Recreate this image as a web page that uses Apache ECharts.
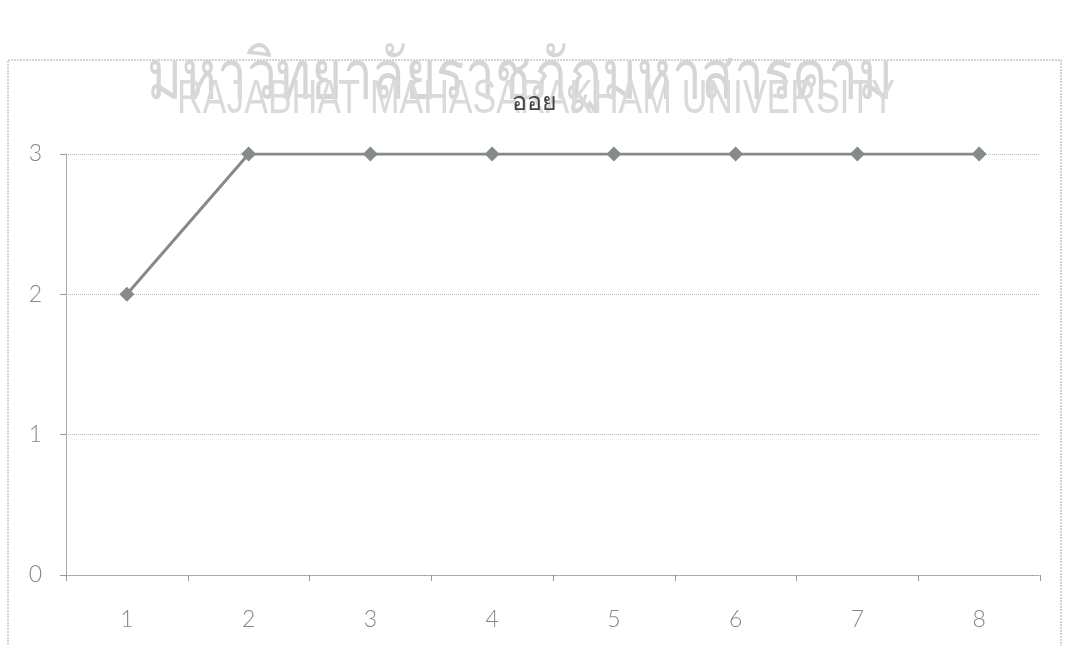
<!DOCTYPE html>
<html>
<head>
<meta charset="utf-8">
<script src="https://cdn.jsdelivr.net/npm/echarts@6/dist/echarts.min.js"></script>
<style>html,body{margin:0;padding:0;background:#fff}#c{width:1069px;height:646px}</style>
</head>
<body>
<div id="c"></div>
<script>
var categories = ['1','2','3','4','5','6','7','8'];
var values = [2,3,3,3,3,3,3,3];
var yTicks = [0,1,2,3];
var titleText = 'ออย';
var watermarkTh = 'มหาวิทยาลัยราชภัฏมหาสารคาม';
var watermarkEn = 'RAJABHAT MAHASARAKHAM UNIVERSITY';

var chart = echarts.init(document.getElementById('c'));
chart.setOption({
  animation: false,
  backgroundColor: '#fff',
  graphic: [
    {type:'rect', shape:{x:8,y:60,width:1053,height:600}, style:{fill:'none',stroke:'#aaa',lineWidth:1,lineDash:[2,1]}, z:0},
    {type:'text', x:520, y:44, scaleX:0.76, style:{text:watermarkTh, x:0, y:0, align:'center', verticalAlign:'top', font:'70px "Noto Sans", sans-serif', fill:'#d6d6d6'}, z:0},
    {type:'text', x:536, y:76, scaleX:0.74, style:{text:watermarkEn, x:0, y:0, align:'center', verticalAlign:'top', font:'48px "Liberation Sans", sans-serif', fill:'#dadada'}, z:0}
  ],
  title: {
    text: titleText, left: 'center', top: 85,
    textStyle: {fontSize: 25, fontWeight: 'normal', color: '#444', fontFamily: '"Noto Sans", sans-serif'}
  },
  grid: {left: 66, right: 29, top: 154, bottom: 71},
  xAxis: {
    type: 'category', data: categories, boundaryGap: true,
    axisLine: {lineStyle: {color: '#999', type: 'dotted'}},
    axisTick: {show: true, length: 6, lineStyle: {color: '#999'}},
    axisLabel: {fontSize: 23, color: '#888', margin: 33, fontFamily: 'Lato, sans-serif', fontWeight: 300}
  },
  yAxis: {
    type: 'value', min: 0, max: 3, interval: 1,
    axisLine: {show: true, lineStyle: {color: '#999', type: 'dotted'}},
    axisTick: {show: true, length: 6, lineStyle: {color: '#999'}},
    splitLine: {lineStyle: {color: '#bbb', type: 'dotted'}},
    axisLabel: {fontSize: 23, color: '#888', margin: 24, fontFamily: 'Lato, sans-serif', fontWeight: 300,
      formatter: function(v){ return yTicks.indexOf(v) >= 0 ? String(v) : ''; }}
  },
  series: [{
    type: 'line', data: values,
    symbol: 'diamond', symbolSize: 15,
    itemStyle: {color: '#858a8c'},
    lineStyle: {color: '#85898a', width: 3}
  }]
});
</script>
</body>
</html>
